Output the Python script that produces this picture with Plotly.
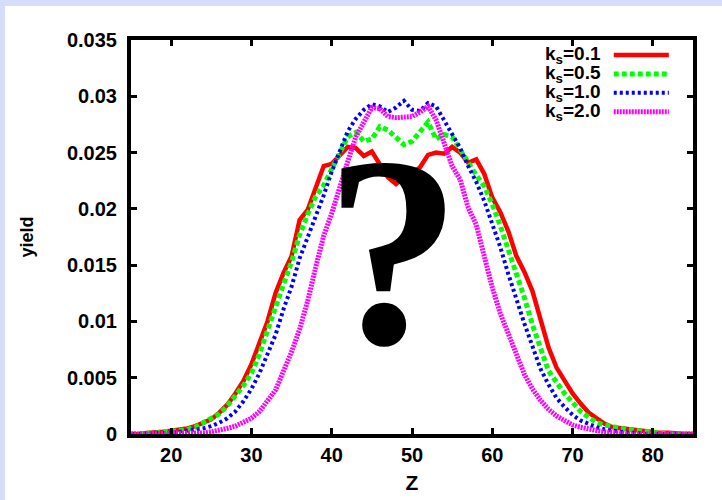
import plotly.graph_objects as go

Z = list(range(15, 86))

ks01 = [0.0000, 0.0000, 0.0001, 0.0001, 0.0002, 0.0003, 0.0004, 0.0005, 0.0007, 0.0010,
        0.0013, 0.0019, 0.0026, 0.0036, 0.0047, 0.0062, 0.0081, 0.0100, 0.0125, 0.0143,
        0.0158, 0.0190, 0.0199, 0.0219, 0.0238, 0.0240, 0.0248, 0.0255, 0.0254, 0.0247,
        0.0251, 0.0240, 0.0228, 0.0222, 0.0228, 0.0231, 0.0237, 0.0248, 0.0250, 0.0249,
        0.0255, 0.0250, 0.0241, 0.0244, 0.0231, 0.0210, 0.0197, 0.0180, 0.0158, 0.0144,
        0.0127, 0.0102, 0.0077, 0.0059, 0.0047, 0.0036, 0.0027, 0.0019, 0.0014, 0.0009,
        0.0006, 0.0005, 0.0004, 0.0003, 0.0002, 0.0001, 0.0001, 0.0001, 0.0000, 0.0000,
        0.0000]

ks05 = [0.0000, 0.0000, 0.0001, 0.0001, 0.0002, 0.0002, 0.0003, 0.0004, 0.0006, 0.0010,
        0.0014, 0.0018, 0.0025, 0.0034, 0.0043, 0.0054, 0.0071, 0.0092, 0.0111, 0.0133,
        0.0153, 0.0177, 0.0195, 0.0211, 0.0221, 0.0236, 0.0250, 0.0264, 0.0268, 0.0260,
        0.0262, 0.0273, 0.0270, 0.0263, 0.0257, 0.0260, 0.0269, 0.0277, 0.0262, 0.0266,
        0.0264, 0.0252, 0.0240, 0.0230, 0.0220, 0.0204, 0.0185, 0.0164, 0.0143, 0.0121,
        0.0097, 0.0075, 0.0056, 0.0046, 0.0036, 0.0028, 0.0020, 0.0015, 0.0010, 0.0008,
        0.0006, 0.0005, 0.0004, 0.0003, 0.0002, 0.0001, 0.0001, 0.0000, 0.0000, 0.0000,
        0.0000]

ks10 = [0.0000, 0.0000, 0.0000, 0.0001, 0.0001, 0.0001, 0.0002, 0.0003, 0.0004, 0.0005,
        0.0007, 0.0010, 0.0014, 0.0020, 0.0029, 0.0040, 0.0054, 0.0070, 0.0088, 0.0111,
        0.0131, 0.0156, 0.0174, 0.0192, 0.0212, 0.0233, 0.0252, 0.0269, 0.0280, 0.0288,
        0.0293, 0.0291, 0.0286, 0.0290, 0.0296, 0.0288, 0.0287, 0.0294, 0.0291, 0.0279,
        0.0266, 0.0254, 0.0238, 0.0224, 0.0207, 0.0187, 0.0166, 0.0142, 0.0119, 0.0098,
        0.0078, 0.0058, 0.0044, 0.0032, 0.0024, 0.0017, 0.0012, 0.0009, 0.0006, 0.0004,
        0.0003, 0.0002, 0.0001, 0.0001, 0.0000, 0.0000, 0.0000, 0.0000, 0.0000, 0.0000,
        0.0000]

ks20 = [0.0000, 0.0000, 0.0000, 0.0000, 0.0000, 0.0001, 0.0001, 0.0001, 0.0001, 0.0001,
        0.0002, 0.0003, 0.0005, 0.0007, 0.0010, 0.0014, 0.0020, 0.0030, 0.0039, 0.0056,
        0.0073, 0.0093, 0.0118, 0.0148, 0.0176, 0.0196, 0.0221, 0.0242, 0.0264, 0.0276,
        0.0290, 0.0289, 0.0282, 0.0281, 0.0281, 0.0282, 0.0286, 0.0291, 0.0279, 0.0257,
        0.0238, 0.0226, 0.0201, 0.0186, 0.0157, 0.0130, 0.0107, 0.0088, 0.0069, 0.0053,
        0.0040, 0.0030, 0.0022, 0.0016, 0.0012, 0.0008, 0.0006, 0.0004, 0.0003, 0.0002,
        0.0001, 0.0001, 0.0000, 0.0000, 0.0000, 0.0000, 0.0000, 0.0000, 0.0000, 0.0000,
        0.0000]

series_names = ["k<sub>s</sub>=0.1", "k<sub>s</sub>=0.5", "k<sub>s</sub>=1.0", "k<sub>s</sub>=2.0"]
series_vals = [ks01, ks05, ks10, ks20]
colors = ["#ff0000", "#00ff00", "#0000ff", "#ff00ff"]
widths = [4.5, 5, 4, 5]
dashes = ["solid", "5px,3px", "3px,3px", "2px,1px"]

x_ticks = [20, 30, 40, 50, 60, 70, 80]
y_ticks = [0, 0.005, 0.01, 0.015, 0.02, 0.025, 0.03, 0.035]
y_ticktext = ["0", "0.005", "0.01", "0.015", "0.02", "0.025", "0.03", "0.035"]

FONT = "Liberation Sans"

fig = go.Figure()
for name, vals, c, w, d in zip(series_names, series_vals, colors, widths, dashes):
    fig.add_trace(go.Scatter(x=Z, y=vals, mode="lines", name=name,
                             line=dict(color=c, width=w, dash=d), showlegend=False))

# manual legend (gnuplot style: text right-aligned, sample to the right)
leg_y = [0.962, 0.914, 0.866, 0.818]
annotations = []
shapes = []
for name, c, w, d, yy in zip(series_names, colors, widths, dashes, leg_y):
    annotations.append(dict(x=0.840, y=yy, xref="paper", yref="paper", text=name,
                            showarrow=False, xanchor="right", yanchor="middle",
                            font=dict(family=FONT, size=19, color="black", weight="bold")))
    shapes.append(dict(type="line", xref="paper", yref="paper", x0=0.859, x1=0.957,
                       y0=yy, y1=yy, line=dict(color=c, width=w, dash=d)))

# big question mark
annotations.append(dict(x=0.466, y=0.462, xref="paper", yref="paper", text="?",
                        showarrow=False, xanchor="center", yanchor="middle",
                        font=dict(family="Liberation Serif", size=272, color="black",
                                  weight="bold")))

# lavender page frame strips (top and left)
lav = "#d5ddfb"
shapes.append(dict(type="rect", xref="paper", yref="paper", x0=-0.2331, x1=-0.2242,
                   y0=-0.1675, y1=1.1015, fillcolor=lav, line=dict(width=0), layer="above"))
shapes.append(dict(type="rect", xref="paper", yref="paper", x0=-0.2331, x1=1.0516,
                   y0=1.0863, y1=1.1015, fillcolor=lav, line=dict(width=0), layer="above"))

fig.update_layout(
    width=722, height=500,
    margin=dict(l=131, r=29, t=40, b=66),
    paper_bgcolor="white", plot_bgcolor="white",
    font=dict(family=FONT, color="black"),
    annotations=annotations, shapes=shapes,
    xaxis=dict(range=[15, 85], tickvals=x_ticks, ticks="inside", ticklen=6, tickwidth=3,
               tickcolor="black", showline=True, linecolor="black", linewidth=4,
               mirror="allticks", showgrid=False, zeroline=False, ticklabelstandoff=0,
               automargin=False,
               tickfont=dict(family=FONT, size=20, color="black", weight="bold"),
               title=dict(text="Z", font=dict(family=FONT, size=21, color="black", weight="bold"),
                          standoff=11)),
    yaxis=dict(range=[0, 0.035], tickvals=y_ticks, ticktext=y_ticktext, ticks="inside",
               ticklen=6, tickwidth=3, tickcolor="black", showline=True, linecolor="black",
               linewidth=4, mirror="allticks", showgrid=False, zeroline=False,
               ticklabelstandoff=6, automargin=False,
               tickfont=dict(family=FONT, size=20, color="black", weight="bold"),
               title=dict(text="yield", font=dict(family=FONT, size=18, color="black", weight="bold"),
                          standoff=30)),
)

fig.write_html("out.html")
